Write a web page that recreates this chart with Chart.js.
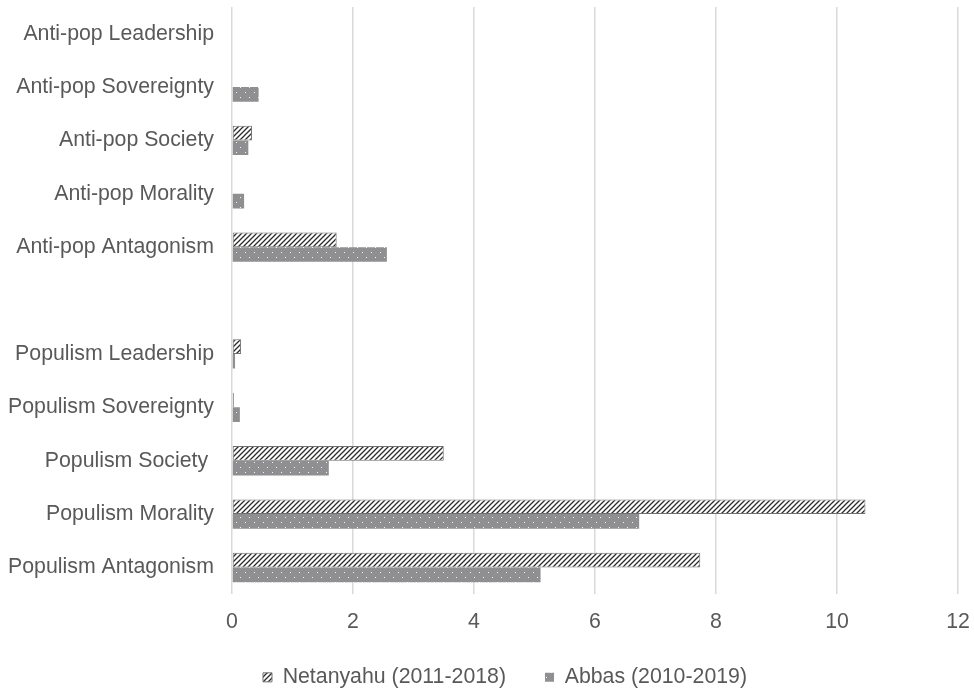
<!DOCTYPE html>
<html>
<head>
<meta charset="utf-8">
<script src="https://cdn.jsdelivr.net/npm/chart.js@4.4.1/dist/chart.umd.min.js"></script>
<style>
    html, body { margin: 0; padding: 0; background: #fff; }
    #wrap { width: 974px; height: 689px; }
</style>
</head>
<body>
<div id="wrap"><canvas id="chart"></canvas></div>
<script>
const categories = [
    "Anti-pop Leadership", "Anti-pop Sovereignty", "Anti-pop Society", "Anti-pop Morality", "Anti-pop Antagonism",
    "",
    "Populism Leadership", "Populism Sovereignty", "Populism Society ", "Populism Morality", "Populism Antagonism"
];
const netanyahu = [0, 0, 0.33, 0, 1.73, null, 0.15, 0.03, 3.5, 10.47, 7.74];
const abbas = [0, 0.44, 0.27, 0.2, 2.56, null, 0.05, 0.13, 1.6, 6.73, 5.1];
const xTicks = [0, 2, 4, 6, 8, 10, 12];

const FONT = { family: 'Liberation Sans, Arial', size: 21.3 };

function hatchPattern() {
    const c = document.createElement('canvas');
    c.width = 5; c.height = 5;
    const g = c.getContext('2d');
    g.fillStyle = '#ffffff';
    g.fillRect(0, 0, 5, 5);
    g.strokeStyle = '#2b2b2b';
    g.lineWidth = 1.3;
    g.beginPath();
    g.moveTo(-1, 6); g.lineTo(6, -1);
    g.moveTo(-1, 1); g.lineTo(1, -1);
    g.moveTo(4, 6); g.lineTo(6, 4);
    g.stroke();
    return g.createPattern(c, 'repeat');
}

function dotPattern() {
    const c = document.createElement('canvas');
    c.width = 9; c.height = 10;
    const g = c.getContext('2d');
    g.fillStyle = '#8f8f92';
    g.fillRect(0, 0, 9, 10);
    g.fillStyle = '#f4f4f4';
    g.fillRect(2, 2, 1, 1);
    g.fillRect(6, 7, 1, 1);
    return g.createPattern(c, 'repeat');
}

// nudge the legend to where the original sits
const legendShift = {
    id: 'legendShift',
    afterLayout(chart) {
        const lg = chart.legend;
        lg.left += 23; lg.right += 23;
        lg.top -= 22; lg.bottom -= 22;
    }
};

const ctx = document.getElementById('chart').getContext('2d');
new Chart(ctx, {
    type: 'bar',
    data: {
        labels: categories,
        datasets: [
            { label: 'Netanyahu (2011-2018)', data: netanyahu, backgroundColor: hatchPattern(), borderColor: '#6f6f6f', borderWidth: 1, borderSkipped: false },
            { label: 'Abbas (2010-2019)', data: abbas, backgroundColor: dotPattern(), borderWidth: 0 }
        ]
    },
    plugins: [legendShift],
    options: {
        indexAxis: 'y',
        responsive: true,
        maintainAspectRatio: false,
        animation: false,
        layout: { padding: { left: 6, right: 16, top: 7, bottom: -31 } },
        datasets: { bar: { categoryPercentage: 0.55, barPercentage: 1.0 } },
        plugins: {
            tooltip: { enabled: false },
            legend: {
                position: 'bottom',
                labels: {
                    color: '#595959',
                    font: FONT,
                    boxWidth: 9,
                    boxHeight: 9,
                    padding: 39
                }
            }
        },
        scales: {
            x: {
                min: 0, max: 12,
                afterBuildTicks: axis => { axis.ticks = xTicks.map(v => ({ value: v })); },
                afterFit: axis => { axis.paddingRight = 0; },
                grid: { color: '#d9d9d9', lineWidth: 1.5, drawTicks: false },
                border: { display: false },
                ticks: { color: '#595959', font: FONT, padding: 15 }
            },
            y: {
                grid: { display: false },
                border: { display: false },
                ticks: { color: '#595959', font: FONT, padding: 10 },
                afterFit: axis => {
                    axis.paddingTop = 0;
                    axis.paddingBottom = 0;
                    axis.width = 226;
                }
            }
        }
    }
});
</script>
</body>
</html>
